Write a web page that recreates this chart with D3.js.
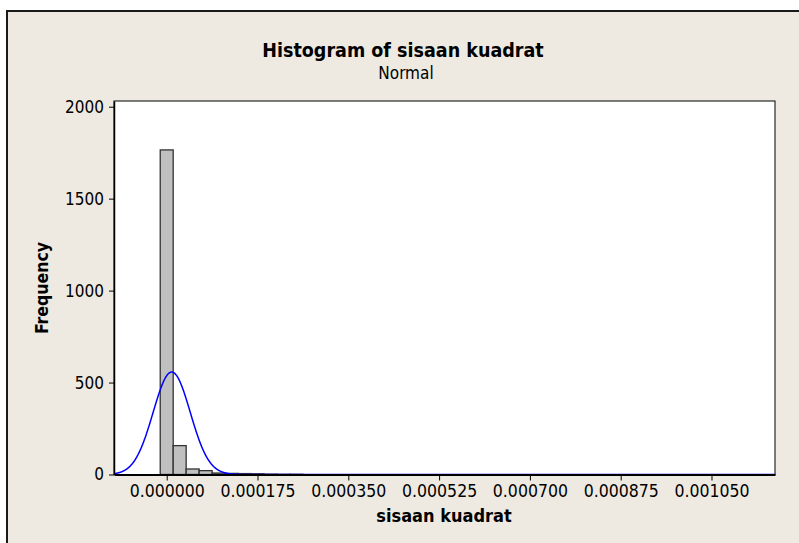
<!DOCTYPE html>
<html lang="en">
<head>
	<meta charset="UTF-8"/>
	<title>Histogram of sisaan kuadrat</title>
	<script src="https://d3js.org/d3.v7.min.js"></script>
	<style>
		body { margin: 0; background: #ffffff; }
		text { font-family: "DejaVu Sans Condensed", "DejaVu Sans", sans-serif; fill: #000; }
		.bar { fill: #c0c0c0; stroke: #333333; stroke-width: 1.3; }
		.fit { fill: none; stroke: #0000ff; stroke-width: 1.5; }
	</style>
</head>
<body>
	<div id="chart"></div>
	<script>
	// bin midpoints (step 0.000025) and their counts
	var binWidth = 0.000025;
	var binMids = [0, 0.000025, 0.00005, 0.000075, 0.0001, 0.000125, 0.00015, 0.000175,
					0.0002, 0.000225, 0.00025];
	var counts  = [1765, 157, 30, 21, 8, 6, 5, 4,
					2, 1, 1];

	// normal fit
	var fitMean = 0.0000096;
	var fitStDev = 0.0000358;

	var xTicks = [0, 0.000175, 0.00035, 0.000525, 0.0007, 0.000875, 0.00105];
	var yTicks = [0, 500, 1000, 1500, 2000];

	var w = 799;
	var h = 543;
	var plot = { left: 114, top: 101, right: 775, bottom: 474.5 };

	var svg = d3.select("#chart")
				.append("svg")
				.attr("width", w)
				.attr("height", h);

	// graph window frame
	svg.append("rect")
		.attr("x", 7).attr("y", 11)
		.attr("width", 820).attr("height", 560)
		.style("fill", "#eeeae1")
		.style("stroke", "#1a1a1a")
		.style("stroke-width", 2);

	var xScale = d3.scaleLinear()
					.domain([-0.0001016, 0.0011724])
					.range([plot.left, plot.right]);

	var yScale = d3.scaleLinear()
					.domain([0, 2031])
					.range([plot.bottom, plot.top]);

	svg.append("rect")
		.attr("x", plot.left).attr("y", plot.top)
		.attr("width", plot.right - plot.left)
		.attr("height", plot.bottom - plot.top)
		.style("fill", "#ffffff")
		.style("stroke", "#000")
		.style("stroke-width", 1);

	svg.append("defs").append("clipPath")
		.attr("id", "clip")
		.append("rect")
		.attr("x", plot.left).attr("y", plot.top)
		.attr("width", plot.right - plot.left)
		.attr("height", plot.bottom - plot.top);

	var dataset = binMids.map(function(m, i){
		return { mid: m, count: counts[i] };
	});

	svg.append("g")
		.selectAll("rect")
		.data(dataset)
		.enter()
		.append("rect")
		.attr("class", "bar")
		.attr("x", function(d){ return xScale(d.mid - binWidth / 2); })
		.attr("y", function(d){ return yScale(d.count); })
		.attr("width", function(d){ return xScale(d.mid + binWidth / 2) - xScale(d.mid - binWidth / 2); })
		.attr("height", function(d){ return yScale(0) - yScale(d.count); });

	// fitted normal curve scaled to counts
	var n = d3.sum(counts);
	var fitPts = d3.range(-0.0001016, 0.0011724, 0.0000005).map(function(v){
		var z = (v - fitMean) / fitStDev;
		return [v, n * binWidth * Math.exp(-0.5 * z * z) / (fitStDev * Math.sqrt(2 * Math.PI))];
	});

	var line = d3.line()
				.x(function(d){ return xScale(d[0]); })
				.y(function(d){ return yScale(d[1]); });

	svg.append("path")
		.datum(fitPts)
		.attr("class", "fit")
		.attr("clip-path", "url(#clip)")
		.attr("d", line);

	// axes
	var xAxis = d3.axisBottom(xScale)
					.tickValues(xTicks)
					.tickSize(6)
					.tickSizeOuter(0)
					.tickPadding(4)
					.tickFormat(d3.format(".6f"));
	var yAxis = d3.axisLeft(yScale)
					.tickValues(yTicks)
					.tickSize(5)
					.tickSizeOuter(0)
					.tickPadding(5)
					.tickFormat(d3.format("d"));

	var gx = svg.append("g")
		.attr("transform", "translate(0," + plot.bottom + ")")
		.call(xAxis);
	gx.select(".domain").style("stroke", "#000").style("stroke-width", 2);
	gx.selectAll("text").style("font-size", "17.5px");

	var gy = svg.append("g")
		.attr("transform", "translate(" + plot.left + ",0)")
		.call(yAxis);
	gy.select(".domain").style("stroke", "#000").style("stroke-width", 1.5);
	gy.selectAll("text").style("font-size", "17px");

	// titles
	svg.append("text")
		.attr("x", 403).attr("y", 57)
		.attr("text-anchor", "middle")
		.style("font-size", "19.5px")
		.style("font-weight", "bold")
		.text("Histogram of sisaan kuadrat");

	svg.append("text")
		.attr("x", 406).attr("y", 79)
		.attr("text-anchor", "middle")
		.style("font-size", "17px")
		.text("Normal");

	svg.append("text")
		.attr("x", 444).attr("y", 522)
		.attr("text-anchor", "middle")
		.style("font-size", "18px")
		.style("font-weight", "bold")
		.text("sisaan kuadrat");

	svg.append("text")
		.attr("transform", "translate(48,288) rotate(-90)")
		.attr("text-anchor", "middle")
		.style("font-size", "17.5px")
		.style("font-weight", "bold")
		.text("Frequency");
	</script>
</body>
</html>
